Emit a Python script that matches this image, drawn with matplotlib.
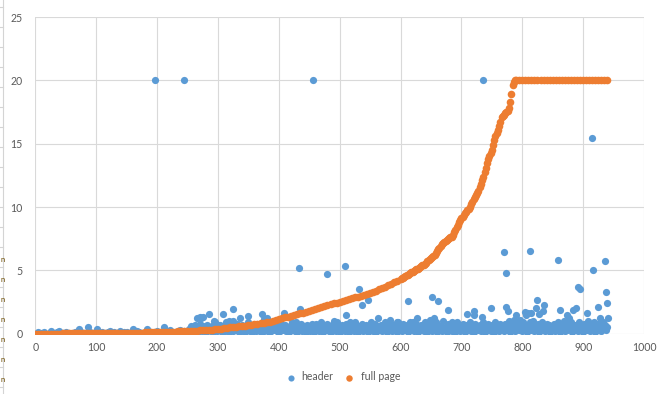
import numpy as np
import matplotlib
matplotlib.use('Agg')
import matplotlib.pyplot as plt
from matplotlib.lines import Line2D

plt.rcParams['font.family'] = ['Lato', 'DejaVu Sans']

BLUE = '#5B9BD5'
ORANGE = '#ED7D31'

# ---------------- full page series (sorted) ----------------
full_seg1_start, full_seg1_step = 0, 5
full_seg1_y = [
    0.00, 0.00, 0.00, 0.00, 0.01, 0.01, 0.01, 0.01, 0.01, 0.02, 0.02, 0.02, 0.02, 0.02, 0.02, 0.03, 0.03, 0.03, 0.03, 0.03, 0.03,
    0.04, 0.04, 0.04, 0.05, 0.05, 0.05, 0.06, 0.06, 0.06, 0.07, 0.07, 0.08, 0.08, 0.09, 0.09, 0.10, 0.10, 0.11, 0.11, 0.12,
    0.13, 0.13, 0.14, 0.15, 0.16, 0.17, 0.18, 0.19, 0.20, 0.22, 0.23, 0.24, 0.25, 0.27, 0.28, 0.30, 0.32, 0.33, 0.35, 0.38,
    0.40, 0.43, 0.46, 0.49, 0.52, 0.55, 0.58, 0.61, 0.64, 0.68, 0.71, 0.75, 0.79, 0.83, 0.87, 0.91, 0.95, 1.01, 1.08, 1.16,
    1.22, 1.29, 1.35, 1.42, 1.48, 1.54, 1.60, 1.66, 1.73, 1.80, 1.88, 1.96, 2.04, 2.12, 2.19, 2.26, 2.33, 2.40, 2.46, 2.53,
    2.60, 2.66, 2.73, 2.80, 2.86, 2.93, 3.00, 3.08, 3.16, 3.24, 3.32, 3.41, 3.49, 3.59, 3.70, 3.81, 3.93, 4.05, 4.17, 4.30,
]
full_seg2_start, full_seg2_step = 602, 2
full_seg2_y = [
    4.36, 4.42, 4.48, 4.54, 4.60, 4.66, 4.72, 4.78, 4.84, 4.90,
    4.96, 5.02, 5.08, 5.13, 5.19, 5.24, 5.31, 5.39, 5.46, 5.54,
    5.62, 5.70, 5.78, 5.86, 5.94, 6.02, 6.10, 6.24, 6.38, 6.52,
    6.66, 6.80, 6.95, 7.05, 7.14, 7.22, 7.29, 7.36, 7.44, 7.52,
    7.60, 7.66, 7.82, 8.00, 8.20, 8.40, 8.60, 8.80, 8.95, 9.10,
    9.25, 9.38, 9.50, 9.62, 9.75, 9.88, 10.0, 10.2, 10.4, 10.6,
    10.8, 10.95, 11.1, 11.3, 11.6, 11.85, 12.1, 12.4, 12.8, 13.1,
    13.45, 13.8, 14.05, 14.25, 14.5, 14.9, 15.3, 15.6, 15.85, 16.1,
    16.4, 16.75, 17.1, 17.2, 17.3, 17.4, 17.5, 17.6, 17.8, 18.3,
    18.9, 19.6, 19.85, 20.0, 20.0,
]
full_seg3_start, full_seg3_step = 795, 5
full_seg3_y = [
    20, 20, 20, 20, 20, 20, 20, 20, 20, 20,
    20, 20, 20, 20, 20, 20, 20, 20, 20, 20,
    20, 20, 20, 20, 20, 20, 20, 20, 20, 20,
]

# ---------------- header series ----------------
# low band hidden under the orange curve (x = 0..245 step 5)
header_low_start, header_low_step = 0, 5
header_low_y = [
    0.00, 0.10, 0.05, 0.15, 0.00, 0.10, 0.05, 0.12, 0.02, 0.08,
    0.15, 0.05, 0.00, 0.10, 0.06, 0.14, 0.03, 0.09, 0.12, 0.04,
    0.10, 0.02, 0.15, 0.07, 0.11, 0.03, 0.13, 0.08, 0.05, 0.15,
    0.10, 0.02, 0.12, 0.06, 0.14, 0.09, 0.04, 0.15, 0.10, 0.07,
    0.18, 0.05, 0.12, 0.20, 0.08, 0.15, 0.10, 0.22, 0.06, 0.18,
]
# dense band (x = 250..940 step 2)
header_band_start, header_band_step = 250, 2
header_band_y = [
    0.1, 0.4, 0.2, 0.6, 0.1, 0.3, 0.7, 0.2, 0.5, 0.1, 0.8, 0.3, 0.2, 0.6, 0.4, 0.1, 0.7, 0.3, 0.5, 0.2,
    0.6, 0.1, 0.4, 0.8, 0.2, 0.5, 0.3, 0.7, 0.1, 0.4, 0.6, 0.2, 0.9, 0.3, 0.1, 0.5, 0.7, 0.2, 0.4, 0.6,
    0.3, 0.8, 0.1, 0.5, 0.2, 0.7, 0.4, 0.1, 0.6, 0.3, 0.9, 0.2, 0.5, 0.1, 0.7, 0.4, 0.2, 0.8, 0.3, 0.5,
    0.1, 0.6, 0.4, 0.2, 0.8, 0.3, 0.5, 0.1, 0.7, 0.2, 0.4, 0.9, 0.3, 0.6, 0.1, 0.5, 0.2, 0.8, 0.4, 0.3,
    0.7, 0.2, 0.5, 0.1, 0.6, 0.3, 0.9, 0.4, 0.2, 0.7, 0.1, 0.5, 0.3, 0.8, 0.2, 0.6, 0.4, 0.1, 0.7, 0.3,
    0.5, 0.2, 0.8, 0.4, 0.1, 0.6, 0.3, 0.7, 0.2, 0.5, 0.9, 0.1, 0.4, 0.6, 0.3, 0.8, 0.2, 0.5, 0.1, 0.7,
    0.3, 0.6, 0.2, 0.9, 0.4, 0.1, 0.5, 0.7, 0.3, 0.2, 0.8, 0.4, 0.6, 0.1, 0.5, 0.3, 0.7, 0.2, 0.9, 0.4,
    0.1, 0.6, 0.3, 0.8, 0.2, 0.5, 0.4, 0.7, 0.1, 0.6, 0.3, 0.9, 0.2, 0.5, 0.8, 0.1, 0.4, 0.6, 0.3, 0.7,
    0.2, 0.5, 0.9, 0.3, 0.1, 0.6, 0.4, 0.8, 0.2, 0.7, 0.3, 0.5, 0.1, 0.9, 0.4, 0.6, 0.2, 0.8, 0.3, 0.5,
    0.7, 0.1, 0.4, 0.6, 0.3, 0.9, 0.2, 0.5, 0.8, 0.1, 0.6, 0.3, 0.7, 0.4, 0.2, 0.9, 0.5, 0.1, 0.6, 0.3,
    0.8, 0.2, 0.5, 0.4, 0.9, 0.1, 0.7, 0.3, 0.6, 0.2, 1.0, 0.4, 0.5, 0.1, 0.8, 0.3, 0.6, 0.2, 0.7, 0.4,
    0.1, 0.9, 0.3, 0.6, 0.2, 0.5, 0.8, 0.4, 0.1, 0.7, 0.3, 0.6, 0.9, 0.2, 0.5, 0.1, 0.8, 0.4, 0.6, 0.3,
    0.7, 0.2, 0.5, 0.9, 0.1, 0.6, 0.3, 0.8, 0.4, 0.2, 0.7, 0.5, 0.1, 0.9, 0.3, 0.6, 0.2, 0.8, 0.4, 0.5,
    0.2, 0.8, 0.6, 0.3, 1.0, 0.1, 0.7, 0.4, 0.9, 0.2, 0.5, 0.8, 0.3, 1.1, 0.6, 0.2, 0.9, 0.4, 0.7, 0.1,
    0.6, 0.9, 0.3, 0.5, 1.0, 0.2, 0.7, 0.4, 0.8, 0.1, 0.6, 0.9, 0.3, 0.5, 0.2, 0.8, 0.4, 0.7, 0.1, 0.5,
    0.3, 0.8, 0.2, 0.6, 0.9, 0.4, 0.1, 0.7, 0.5, 1.0, 0.2, 0.6, 0.3, 0.8, 0.4, 0.9, 0.1, 0.5, 0.7, 0.3,
    0.6, 0.2, 0.9, 0.4, 0.7, 0.1, 0.8, 0.5, 0.3, 1.0, 0.6, 0.2, 0.7, 0.4, 0.9, 0.1, 0.5, 0.8, 0.3, 0.6,
    0.2, 0.9, 0.4, 0.7, 0.3, 0.5,
]
# individually read points standing out of the band
header_spike_x = [
    26, 39, 71, 87, 101, 123, 139, 160, 167, 183, 211, 221, 238, 257,
    197, 245, 456, 736,
    265, 271, 276, 273, 286, 294, 295, 300, 309, 319, 324, 325, 336, 350, 372, 375, 380, 396,
    409, 429, 434, 435, 461, 480, 491, 509, 510, 517, 532, 537, 547, 563, 583, 594,
    613, 616, 627, 648, 652, 655, 661, 678, 684, 710, 720, 721, 734, 749,
    770, 773, 774, 777, 782, 786, 790, 804, 806, 810, 812, 815, 823, 824, 828, 834, 836,
    858, 862, 873, 877, 883, 889, 892, 895, 907, 915, 917, 925, 928, 936, 938, 940, 941,
]
header_spike_y = [
    0.25, 0.25, 0.35, 0.5, 0.35, 0.25, 0.25, 0.35, 0.25, 0.4, 0.55, 0.3, 0.3, 0.5,
    20, 20, 20, 20,
    1.2, 1.3, 1.3, 1.2, 1.55, 1.0, 0.95, 0.7, 1.55, 1.0, 1.03, 1.95, 1.26, 1.4, 1.55, 1.15, 1.2, 0.7,
    1.6, 0.95, 5.16, 1.93, 0.8, 4.69, 1.0, 5.34, 1.47, 0.95, 3.5, 2.27, 2.66, 1.2, 1.08, 0.95,
    2.58, 0.95, 1.2, 1.08, 2.9, 1.2, 2.55, 1.87, 0.95, 1.55, 1.79, 1.47, 1.29, 2.0,
    6.42, 4.77, 2.13, 1.82, 0.95, 1.08, 1.47, 1.74, 1.47, 1.6, 6.5, 1.6, 2.0, 2.66, 1.55, 1.82, 2.27,
    5.79, 1.87, 1.47, 1.2, 1.87, 2.0, 3.69, 3.55, 1.6, 15.42, 5.03, 2.08, 1.2, 5.71, 3.27, 2.4, 1.2,
]

x_ticks = list(range(0, 1001, 100))
y_ticks = list(range(0, 26, 5))


def seg_x(start, step, vals):
    return start + step * np.arange(len(vals))


full_x = np.concatenate([seg_x(full_seg1_start, full_seg1_step, full_seg1_y),
                         seg_x(full_seg2_start, full_seg2_step, full_seg2_y),
                         seg_x(full_seg3_start, full_seg3_step, full_seg3_y)])
full_y = np.concatenate([full_seg1_y, full_seg2_y, full_seg3_y])

n = min(len(header_spike_x), len(header_spike_y))
header_x = np.concatenate([seg_x(header_low_start, header_low_step, header_low_y),
                           seg_x(header_band_start, header_band_step, header_band_y),
                           header_spike_x[:n]])
header_y = np.concatenate([header_low_y, header_band_y, header_spike_y[:n]])

fig = plt.figure(figsize=(6.7, 3.94), dpi=100)
fig.patch.set_facecolor('white')
ax = fig.add_axes([35.3 / 670, 1 - 333.7 / 394, (644 - 35.3) / 670, (333.7 - 17) / 394])

ax.scatter(header_x, header_y, s=27, c=BLUE, linewidths=0, label='header', zorder=3)
ax.scatter(full_x, full_y, s=30, c=ORANGE, linewidths=0, label='full page', zorder=4)

ax.set_xlim(0, 1000)
ax.set_ylim(0, 25)
ax.set_xticks(x_ticks)
ax.set_yticks(y_ticks)
ax.grid(True, color='#D9D9D9', lw=0.8)
ax.set_axisbelow(True)
for s in ax.spines.values():
    s.set_visible(False)
ax.tick_params(axis='both', length=0, colors='#595959', labelsize=7.6)
ax.tick_params(axis='y', pad=9)
ax.tick_params(axis='x', pad=6)

leg = ax.legend(loc='center', bbox_to_anchor=(340 / 670, 1 - 377 / 394),
                bbox_transform=fig.transFigure, ncol=2, frameon=False,
                fontsize=7.6, handletextpad=0.05, columnspacing=0.5,
                markerscale=0.85, scatterpoints=1)
for t in leg.get_texts():
    t.set_color('#595959')

# spreadsheet edge visible at the left of the screenshot
fig.add_artist(Line2D([3 / 670, 3 / 670], [0, 1], transform=fig.transFigure, color='#D4D4D4', lw=0.8))
for k in range(20):
    yy = 1 - (7 + 20 * k) / 394
    if yy < 0:
        break
    fig.add_artist(Line2D([0, 3 / 670], [yy, yy], transform=fig.transFigure, color='#D4D4D4', lw=0.8))
for yp in [260, 279, 299, 319, 339, 359, 379]:
    fig.text(0.2 / 670, 1 - yp / 394, 'n', fontsize=5.5, color='#6B4A00', ha='left', va='center')

fig.savefig('out.png', dpi=100, facecolor='white')
